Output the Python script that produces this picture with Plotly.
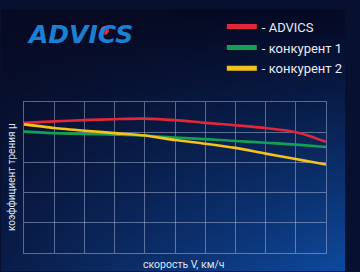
import base64, struct, zlib
import plotly.graph_objects as go

# ---- data (grid units) ----
speed = [0, 1, 2, 3, 4, 5, 6, 7, 8, 9, 9.5, 10]
advics = [4.31, 4.36, 4.40, 4.43, 4.45, 4.40, 4.31, 4.23, 4.14, 4.00, 3.86, 3.68]
comp1 = [4.02, 3.97, 3.94, 3.92, 3.89, 3.82, 3.77, 3.71, 3.65, 3.59, 3.55, 3.51]
comp2 = [4.26, 4.14, 4.05, 3.97, 3.89, 3.74, 3.62, 3.48, 3.29, 3.11, 3.02, 2.93]
series_names = ["- ADVICS", "- конкурент 1", "- конкурент 2"]
series_colors = ["#e3273a", "#13a050", "#f4c21c"]

W, H = 360, 272
ML, MR, MT, MB = 24, 20, 96, 19
PW, PH = W - ML - MR, H - MT - MB

# ---- background gradient image ----
def make_png(w, h):
    tl = (7, 10, 34); tr = (5, 10, 37); bl = (10, 29, 74); br = (15, 74, 158)
    raw = bytearray()
    for j in range(h):
        v = j / (h - 1)
        raw.append(0)
        for i in range(w):
            u = i / (w - 1)
            vv = v ** 1.1
            for c in range(3):
                top = tl[c] * (1 - u) + tr[c] * u
                bot = bl[c] * (1 - u) + br[c] * u
                raw.append(int(top * (1 - vv) + bot * vv))
    def chunk(t, d):
        return struct.pack(">I", len(d)) + t + d + struct.pack(">I", zlib.crc32(t + d) & 0xffffffff)
    png = b"\x89PNG\r\n\x1a\n" + chunk(b"IHDR", struct.pack(">IIBBBBB", w, h, 8, 2, 0, 0, 0)) \
        + chunk(b"IDAT", zlib.compress(bytes(raw), 9)) + chunk(b"IEND", b"")
    return "data:image/png;base64," + base64.b64encode(png).decode()

bg = make_png(90, 68)

fig = go.Figure()
for i, (name, ys, col) in enumerate(zip(series_names, [advics, comp1, comp2], series_colors)):
    fig.add_trace(go.Scatter(x=speed, y=ys, name=name, mode="lines", showlegend=False,
                             line=dict(color=col, width=2.6, shape="spline", smoothing=0.7)))
for i, (name, col) in enumerate(zip(series_names, series_colors)):
    fig.add_trace(go.Scatter(x=[None], y=[None], name=name, mode="lines", legendgroup=str(i),
                             line=dict(color=col, width=5)))

grid = "rgba(190,205,235,0.45)"
fig.update_layout(
    width=W, height=H,
    margin=dict(l=ML, r=MR, t=MT, b=MB),
    paper_bgcolor="#07102e", plot_bgcolor="rgba(0,0,0,0)",
    font=dict(family="Roboto, sans-serif", color="#e8ecf5"),
    xaxis=dict(range=[0, 10], dtick=1, showticklabels=False, showgrid=True, gridcolor=grid,
               gridwidth=1, zeroline=False, showline=True, linecolor=grid, mirror=True, ticks=""),
    yaxis=dict(range=[0, 5], dtick=1, showticklabels=False, showgrid=True, gridcolor=grid,
               gridwidth=1, zeroline=False, showline=True, linecolor=grid, mirror=True, ticks=""),
    legend=dict(x=(231 - ML) / PW, y=1 + (MT - 2) / PH, xanchor="left", yanchor="top",
                bgcolor="rgba(0,0,0,0)", font=dict(size=13, color="#e8ecf5"),
                tracegroupgap=1, itemwidth=30),
    showlegend=True,
    images=[dict(source=bg, xref="paper", yref="paper", x=-ML / PW, y=1 + MT / PH,
                 sizex=W / PW, sizey=H / PH, sizing="stretch", layer="below", xanchor="left", yanchor="top")],
    annotations=[
        dict(text="скорость V, км/ч", xref="paper", yref="paper", x=(191 - ML) / PW, y=-(265 - 253) / PH,
             xanchor="center", yanchor="middle", showarrow=False, font=dict(size=10.5, color="#dfe6f2")),
        dict(text="коэффициент трения μ", xref="paper", yref="paper", x=-(ML - 11) / PW, y=0.5,
             textangle=-90, xanchor="center", yanchor="middle", showarrow=False,
             font=dict(size=10, color="#dfe6f2")),
        dict(text="<b><i>ADVICS</i></b>", xref="paper", yref="paper", x=(25 - ML) / PW, y=1 + (MT - 26) / PH,
             xanchor="left", yanchor="middle", showarrow=False,
             font=dict(family="DejaVu Sans", size=25, color="#1c7fd3")),
    ],
    shapes=[dict(type="circle", xref="paper", yref="paper",
                 x0=(104 - ML) / PW, x1=(113 - ML) / PW, y0=1 + (MT - 26) / PH, y1=1 + (MT - 17) / PH,
                 fillcolor="#e3273a", line=dict(width=0))],
)

fig.write_html("out.html")
